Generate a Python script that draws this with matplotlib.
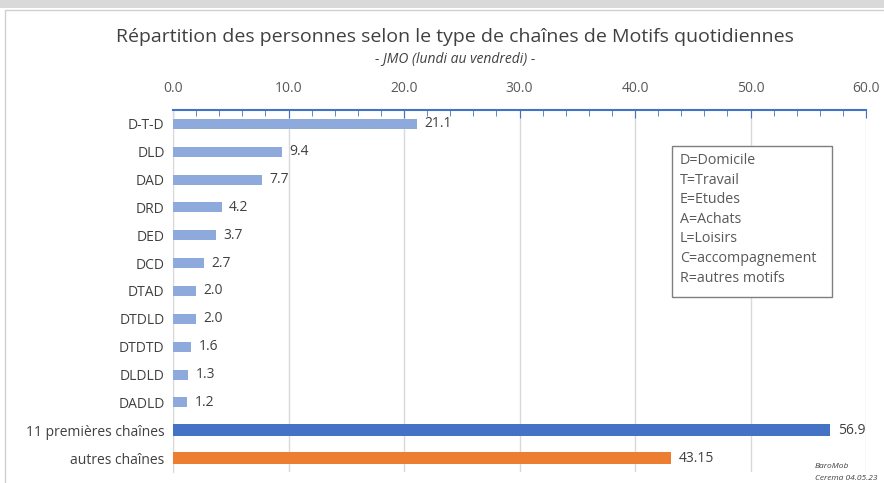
import matplotlib.pyplot as plt
from matplotlib.patches import Rectangle
from matplotlib.ticker import MultipleLocator

plt.rcParams['font.family'] = ['Open Sans', 'DejaVu Sans']

categories = ['D-T-D', 'DLD', 'DAD', 'DRD', 'DED', 'DCD', 'DTAD', 'DTDLD',
              'DTDTD', 'DLDLD', 'DADLD', '11 premières chaînes', 'autres chaînes']
values = [21.1, 9.4, 7.7, 4.2, 3.7, 2.7, 2.0, 2.0, 1.6, 1.3, 1.2, 56.9, 43.15]
labels = ['21.1', '9.4', '7.7', '4.2', '3.7', '2.7', '2.0', '2.0', '1.6', '1.3', '1.2',
          '56.9', '43.15']
colors = ['#8EA9DB'] * 11 + ['#4472C4', '#ED7D31']
heights = [0.36] * 11 + [0.42, 0.42]

legend_text = ['D=Domicile', 'T=Travail', 'E=Etudes', 'A=Achats', 'L=Loisirs',
               'C=accompagnement', 'R=autres motifs']

W, H = 884, 483
fig = plt.figure(figsize=(W / 100, H / 100), dpi=100)
# grey band at top and chart frame
fig.patches.append(Rectangle((0, 1 - 8 / H), 1, 8 / H, transform=fig.transFigure,
                             facecolor='#d9d9d9', edgecolor='none'))
fig.patches.append(Rectangle((5 / W, -0.01), 1, 1 - 10 / H + 0.01,
                             transform=fig.transFigure, facecolor='none',
                             edgecolor='#d0d0d0', lw=1))

ax = fig.add_axes([173 / W, (H - 472) / H, (866 - 173) / W, (472 - 110) / H])
y = list(range(len(categories)))
ax.barh(y, values, height=heights, color=colors, zorder=3)
for yi, v, lab in zip(y, values, labels):
    ax.text(v + 0.65, yi, lab, va='center', ha='left', fontsize=10, color='#404040')

ax.set_xlim(0, 60)
ax.set_ylim(len(categories) - 0.5, -0.5)
ax.set_yticks(y)
ax.set_yticklabels(categories, fontsize=10, color='#404040')
ax.tick_params(axis='y', length=0, pad=6)

ax.xaxis.tick_top()
ax.xaxis.set_major_locator(MultipleLocator(10))
ax.xaxis.set_minor_locator(MultipleLocator(2))
ax.xaxis.set_major_formatter(lambda v, p: f'{v:.1f}')
ax.tick_params(axis='x', which='major', direction='in', length=6, color='#4472C4',
               labelsize=10, labelcolor='#595959', pad=10)
ax.tick_params(axis='x', which='minor', direction='in', length=4, color='#4472C4')
ax.grid(axis='x', color='#d9d9d9', lw=1, zorder=0)

for s in ['right', 'bottom']:
    ax.spines[s].set_visible(False)
ax.spines['top'].set_color('#4472C4')
ax.spines['top'].set_linewidth(1.5)
ax.spines['left'].set_color('#d9d9d9')

fig.text(455 / W, 1 - 37 / H, 'Répartition des personnes selon le type de chaînes de Motifs quotidiennes',
         ha='center', va='center', fontsize=14, color='#404040')
fig.text(455 / W, 1 - 60 / H, '- JMO (lundi au vendredi) -', ha='center', va='center',
         fontsize=10, style='italic', color='#404040')

# legend box
fig.patches.append(Rectangle((672 / W, 1 - 297 / H), 160 / W, 151 / H,
                             transform=fig.transFigure, facecolor='white',
                             edgecolor='#7f7f7f', lw=1, zorder=5))
fig.text(680 / W, 1 - 153 / H, '\n'.join(legend_text), ha='left', va='top',
         fontsize=10.3, color='#595959', linespacing=1.42, zorder=6)

fig.text(815 / W, 1 - 466 / H, 'BaroMob', fontsize=6, style='italic', color='#404040',
         ha='left', va='center')
fig.text(815 / W, 1 - 478 / H, 'Cerema 04.05.23', fontsize=6, style='italic',
         color='#404040', ha='left', va='center')

fig.savefig('out.png', dpi=100)
